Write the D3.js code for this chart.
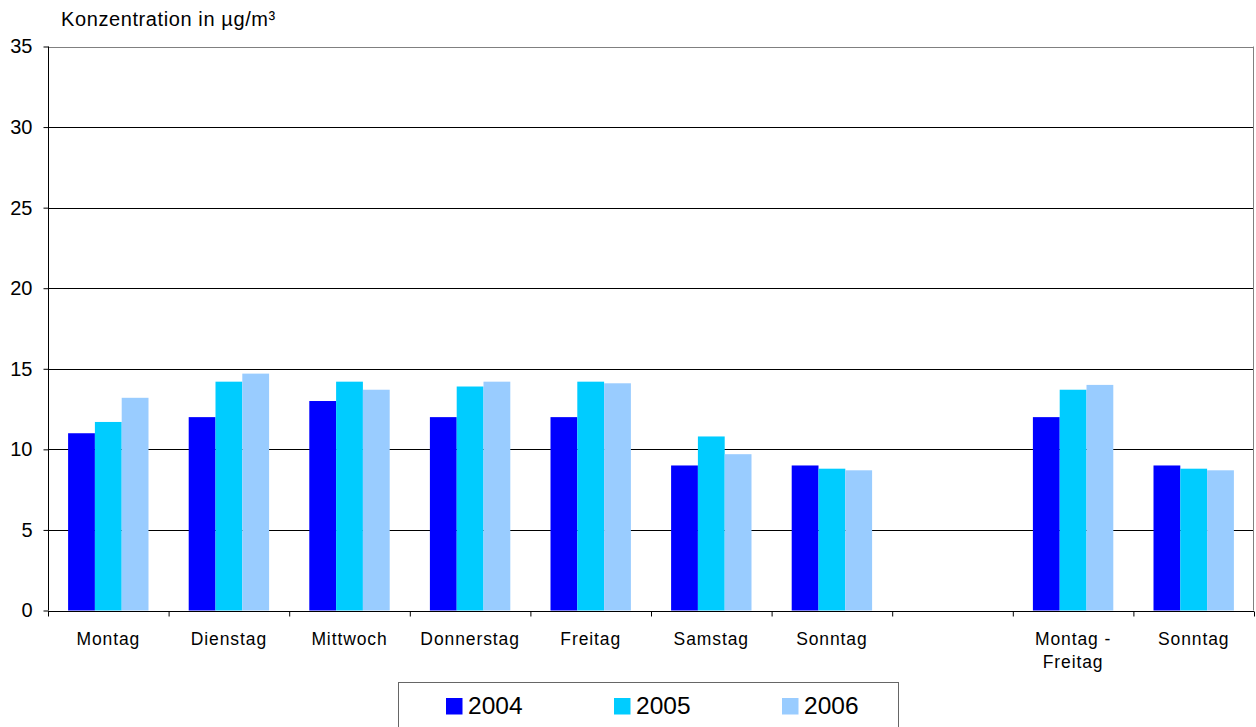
<!DOCTYPE html>
<html><head><meta charset="utf-8">
<script src="https://cdn.jsdelivr.net/npm/d3@7"></script>
<style>
html,body{margin:0;padding:0;background:#fff;}
svg text{font-family:"Liberation Sans",Arial,sans-serif;fill:#000;}
</style></head>
<body>
<svg id="chart" width="1256" height="727"></svg>
<script>
const categories = ["Montag","Dienstag","Mittwoch","Donnerstag","Freitag","Samstag","Sonntag","","Montag -\nFreitag","Sonntag"];
const seriesNames = ["2004","2005","2006"];
const values2004 = [11.0,12.0,13.0,12.0,12.0,9.0,9.0,null,12.0,9.0];
const values2005 = [11.7,14.2,14.2,13.9,14.2,10.8,8.8,null,13.7,8.8];
const values2006 = [13.2,14.7,13.7,14.2,14.1,9.7,8.7,null,14.0,8.7];
const yTicks = [0,5,10,15,20,25,30,35];
const colors = ["#0000FF","#00CCFF","#99CCFF"];
const yTitle = "Konzentration in µg/m³";

const allSeries = [values2004, values2005, values2006];
const svg = d3.select("#chart");
const pLeft = 48, pRight = 1254, pTop = 46.5, pBottom = 610.5;

const x = d3.scaleBand().domain(d3.range(categories.length)).range([pLeft, pRight]);
const unit = x.bandwidth()/4.5; // gap width 150%
const y = d3.scaleLinear().domain([0,35]).range([pBottom, pTop]);

// gridlines
svg.append("g").selectAll("line").data(yTicks.filter(d=>d>0 && d<35)).join("line")
  .attr("x1", pLeft).attr("x2", pRight)
  .attr("y1", d=>Math.round(y(d))+0.5).attr("y2", d=>Math.round(y(d))+0.5)
  .attr("stroke","#000").attr("stroke-width",1);

// plot border (top/right gray)
svg.append("line").attr("x1",pLeft).attr("x2",pRight).attr("y1",Math.round(pTop)+0.5).attr("y2",Math.round(pTop)+0.5).attr("stroke","#808080");
svg.append("line").attr("x1",pRight-0.5).attr("x2",pRight-0.5).attr("y1",pTop).attr("y2",pBottom).attr("stroke","#808080");

// bars
allSeries.forEach((vals, si) => {
  svg.append("g").selectAll("rect").data(vals.map((v,i)=>({v,i})).filter(d=>d.v!=null)).join("rect")
    .attr("x", d => x(d.i) + unit*0.75 + si*unit)
    .attr("width", unit)
    .attr("y", d => y(d.v))
    .attr("height", d => y(0)-y(d.v))
    .attr("fill", colors[si]);
});

// y axis
const yAxis = d3.axisLeft(y).tickValues(yTicks).tickSize(5).tickPadding(11).tickFormat(d3.format("d"));
const ya = svg.append("g").attr("transform",`translate(${pLeft+0.5},0)`).call(yAxis);
ya.select(".domain").attr("stroke","#000").attr("d",`M0,${pTop}V${pBottom}`);
ya.selectAll(".tick line").attr("stroke","#000");
ya.selectAll(".tick text").attr("font-size","20px").attr("font-family","Liberation Sans, Arial, sans-serif").attr("fill","#000");

// x axis
const xAxis = d3.axisBottom(d3.scaleLinear().domain([0,categories.length]).range([pLeft,pRight]))
  .tickValues(d3.range(categories.length+1)).tickSize(5).tickFormat("");
const xa = svg.append("g").attr("transform",`translate(0,${Math.round(pBottom)+0.5})`).call(xAxis);
xa.select(".domain").attr("stroke","#000").attr("d",`M${pLeft},0H${pRight}`);
xa.selectAll(".tick line").attr("stroke","#000");

// x labels
categories.forEach((c,i) => {
  if (!c) return;
  const lines = c.split("\n");
  const t = svg.append("text").attr("x", x(i)+x.bandwidth()/2).attr("y", 645)
    .attr("text-anchor","middle").attr("font-size","17.5px").attr("letter-spacing","0.9px");
  lines.forEach((l,k)=> t.append("tspan").attr("x", x(i)+x.bandwidth()/2).attr("dy", k===0?0:23).text(l));
});

// title
svg.append("text").attr("x",61).attr("y",26).attr("font-size","20px").attr("letter-spacing","0.6px").text(yTitle);

// legend
const lg = svg.append("g");
lg.append("rect").attr("x",398.5).attr("y",682.5).attr("width",500).attr("height",60).attr("fill","#fff").attr("stroke","#666");
const legX = [446,614,782];
seriesNames.forEach((s,i)=>{
  lg.append("rect").attr("x",legX[i]).attr("y",698).attr("width",16.5).attr("height",16.5).attr("fill",colors[i]);
  lg.append("text").attr("x",legX[i]+22).attr("y",714).attr("font-size","24.5px").text(s);
});
</script>
</body></html>
